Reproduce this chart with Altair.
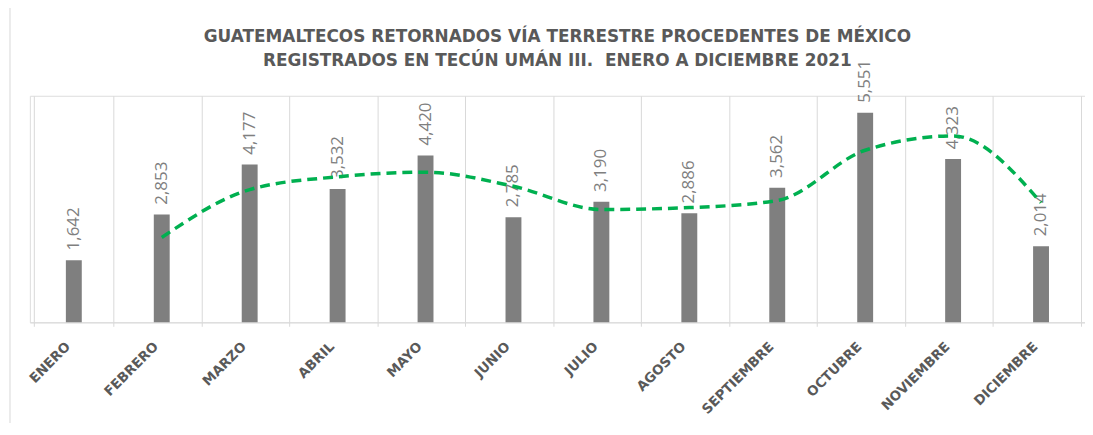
import altair as alt
import pandas as pd

months = ["ENERO", "FEBRERO", "MARZO", "ABRIL", "MAYO", "JUNIO", "JULIO",
          "AGOSTO", "SEPTIEMBRE", "OCTUBRE", "NOVIEMBRE", "DICIEMBRE"]
values = [1642, 2853, 4177, 3532, 4420, 2785, 3190, 2886, 3562, 5551, 4323, 2014]

df = pd.DataFrame({"mes": months, "valor": values, "orden": list(range(len(months)))})

title_lines = ["GUATEMALTECOS RETORNADOS VÍA TERRESTRE PROCEDENTES DE MÉXICO",
               "REGISTRADOS EN TECÚN UMÁN III.\u00a0 ENERO A DICIEMBRE 2021"]

x_enc = alt.X("mes:N", sort=months, title=None,
              axis=alt.Axis(labelAngle=-45, labelAlign="right", labelBaseline="middle",
                            labelFont="DejaVu Sans", labelFontWeight="bold", labelFontSize=13.5,
                            labelColor="#595959", labelPadding=18, labelOffset=-6,
                            grid=True, gridColor="#d9d9d9", tickBand="extent",
                            domainColor="#d9d9d9", tickColor="#d9d9d9", tickSize=4))
y_enc = alt.Y("valor:Q", scale=alt.Scale(domain=[0, 6000]), axis=None)

base = alt.Chart(df)

bars = base.mark_bar(width=16, color="#7f7f7f").encode(x=x_enc, y=y_enc)

labels = base.mark_text(angle=270, align="left", baseline="middle", yOffset=-10,
                        font="Open Sans", fontSize=17, color="#7f7f7f").encode(
    x=alt.X("mes:N", sort=months),
    y="valor:Q",
    text=alt.Text("valor:Q", format=",")
)

trend = base.transform_window(
    ma="mean(valor)", n="count()", frame=[-1, 0], sort=[alt.SortField("orden")]
).transform_filter("datum.n == 2").mark_line(
    color="#00b050", strokeWidth=3.5, strokeDash=[10, 6], interpolate="monotone"
).encode(
    x=alt.X("mes:N", sort=months),
    y="ma:Q"
)

border = alt.Chart(pd.DataFrame({"k": [0]})).mark_rule(color="#d9d9d9", strokeWidth=1).encode(
    x=alt.value(-20), y=alt.value(-95), y2=alt.value(340)
)

chart = alt.layer(border, bars, labels, trend).properties(
    width=1062, height=228,
    title=alt.TitleParams(title_lines, font="DejaVu Sans", fontSize=17, fontWeight="bold",
                          color="#595959", anchor="middle",
                          offset=0, dy=70, lineHeight=25),
    autosize=alt.AutoSizeParams(type="none"),
    padding={"left": 22, "top": 87, "right": 0, "bottom": 100}
).configure_view(stroke=None).configure(background="white")

chart.save("out.html", embed_options={"renderer": "svg", "actions": False})
